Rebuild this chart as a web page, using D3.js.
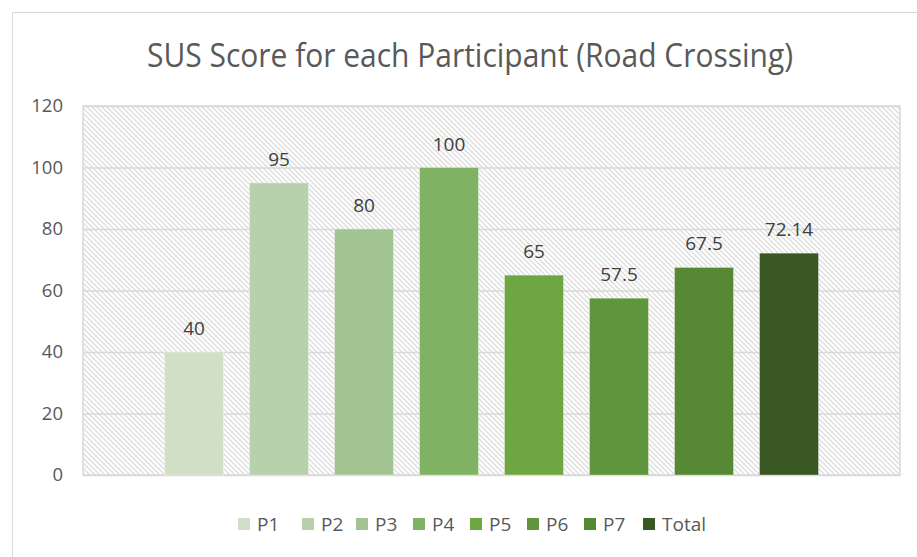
<!DOCTYPE html>
<html>
<head>
<meta charset="utf-8">
<script src="https://cdn.jsdelivr.net/npm/d3@7"></script>
<style>
  html, body { margin: 0; padding: 0; background: #fff; }
  svg { display: block; }
</style>
</head>
<body>
<svg id="chart" width="917" height="557"></svg>
<script>
// SUS scores per participant plus overall average
const participants = ["P1", "P2", "P3", "P4", "P5", "P6", "P7", "Total"];
const susScores = [40, 95, 80, 100, 65, 57.5, 67.5, 72.14];
const barColors = ["#d0dfc6", "#b6d1ab", "#a1c490", "#80b264", "#6ea644", "#5f953d", "#578935", "#385723"];
const yTicks = [0, 20, 40, 60, 80, 100, 120];
const chartTitle = "SUS Score for each Participant (Road Crossing)";

const svg = d3.select("#chart");
const W = 917, H = 557;
const plot = { left: 83, right: 900, top: 106, bottom: 475 };
const font = "'Open Sans', 'DejaVu Sans', sans-serif";

// hatched plot background
const defs = svg.append("defs");
const T = 5;
const pat = defs.append("pattern")
  .attr("id", "hatch").attr("patternUnits", "userSpaceOnUse")
  .attr("width", T).attr("height", T);
pat.append("rect").attr("width", T).attr("height", T).attr("fill", "#fff");
pat.append("path")
  .attr("d", `M-1,-1 L${T + 1},${T + 1} M-1,${T - 1} L1,${T + 1} M${T - 1},-1 L${T + 1},1`)
  .attr("stroke", "#dddddd").attr("stroke-width", 1.3);

// chart frame
svg.append("rect").attr("x", 12.5).attr("y", 12.5)
  .attr("width", W).attr("height", H)
  .attr("fill", "#fff").attr("stroke", "#d9d9d9").attr("stroke-width", 1);

const x = d3.scaleBand()
  .domain(participants)
  .range([plot.left, plot.right])
  .paddingInner(0.306)
  .paddingOuter(0.959);

const y = d3.scaleLinear().domain([0, 120]).range([plot.bottom, plot.top]);

svg.append("rect")
  .attr("x", plot.left).attr("y", plot.top)
  .attr("width", plot.right - plot.left).attr("height", plot.bottom - plot.top)
  .attr("fill", "url(#hatch)").attr("stroke", "#d9d9d9").attr("stroke-width", 1.5);

// gridlines + y axis labels
const yAxis = d3.axisLeft(y).tickValues(yTicks)
  .tickSize(-(plot.right - plot.left)).tickPadding(20);
const gy = svg.append("g").attr("transform", `translate(${plot.left},0)`).call(yAxis);
gy.select(".domain").remove();
gy.selectAll(".tick line").attr("stroke", "#d9d9d9").attr("stroke-width", 1.5);
gy.selectAll(".tick text")
  .attr("fill", "#595959")
  .style("font-family", font)
  .style("font-size", "18.5px");

// bars
svg.append("g").selectAll("rect")
  .data(participants)
  .join("rect")
  .attr("x", d => x(d))
  .attr("width", x.bandwidth())
  .attr("y", (d, i) => y(susScores[i]))
  .attr("height", (d, i) => y(0) - y(susScores[i]))
  .attr("fill", (d, i) => barColors[i])
  .attr("stroke", "rgba(255,255,255,0.35)")
  .attr("stroke-width", 1);

// value labels
svg.append("g").selectAll("text")
  .data(participants)
  .join("text")
  .attr("x", d => x(d) + x.bandwidth() / 2)
  .attr("y", (d, i) => y(susScores[i]) - 17)
  .attr("text-anchor", "middle")
  .attr("fill", "#404040")
  .style("font-family", font)
  .style("font-size", "19px")
  .text((d, i) => susScores[i]);

// title
svg.append("text")
  .attr("x", 470).attr("y", 67)
  .attr("text-anchor", "middle")
  .attr("fill", "#595959")
  .attr("textLength", 646).attr("lengthAdjust", "spacingAndGlyphs")
  .style("font-family", "'Liberation Sans Narrow', 'Open Sans', sans-serif")
  .style("font-size", "32px")
  .text(chartTitle);

// legend
const legendX = [238, 302, 356, 413, 470, 527, 584, 643];
const lg = svg.append("g");
participants.forEach((p, i) => {
  const g = lg.append("g").attr("transform", `translate(${legendX[i]},0)`);
  g.append("rect").attr("x", 0).attr("y", 518).attr("width", 12).attr("height", 12)
    .attr("fill", barColors[i]);
  g.append("text").attr("x", 19).attr("y", 531)
    .attr("fill", "#595959")
    .style("font-family", font)
    .style("font-size", "19px")
    .text(p);
});
</script>
</body>
</html>
